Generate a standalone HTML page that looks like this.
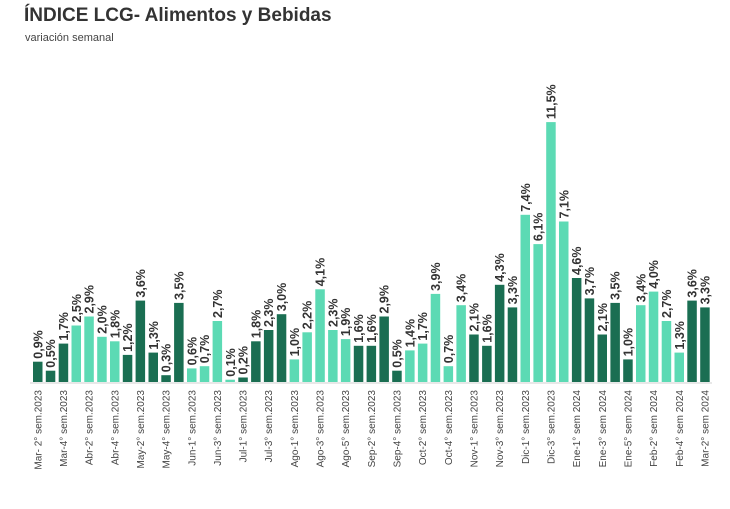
<!DOCTYPE html>
<html><head><meta charset="utf-8"><style>
body{margin:0;background:#fff;width:730px;height:504px;overflow:hidden;font-family:"Liberation Sans",sans-serif}
</style></head><body>
<svg id="s" width="730" height="504" xmlns="http://www.w3.org/2000/svg" font-family="Liberation Sans, sans-serif">
<text x="24" y="21" font-size="19" font-weight="bold" fill="#333">ÍNDICE LCG- Alimentos y Bebidas</text>
<text x="25" y="41" font-size="11" fill="#444">variación semanal</text>
<line x1="30" y1="383" x2="712" y2="383" stroke="#d0d0d0" stroke-width="1"/>
<g id="g"></g>
</svg>
<script>
var v=[0.9,0.5,1.7,2.5,2.9,2.0,1.8,1.2,3.6,1.3,0.3,3.5,0.6,0.7,2.7,0.1,0.2,1.8,2.3,3.0,1.0,2.2,4.1,2.3,1.9,1.6,1.6,2.9,0.5,1.4,1.7,3.9,0.7,3.4,2.1,1.6,4.3,3.3,7.4,6.1,11.5,7.1,4.6,3.7,2.1,3.5,1.0,3.4,4.0,2.7,1.3,3.6,3.3];
var c="DDDLLLLDDDDDLLLLDDDDLLLLLDDDDLLLLLDDDDLLLLDDDDDLLLLDD";
var xl=["Mar- 2° sem.2023","Mar-4° sem.2023","Abr-2° sem.2023","Abr-4° sem.2023","May-2° sem.2023","May-4° sem.2023","Jun-1° sem.2023","Jun-3° sem.2023","Jul-1° sem.2023","Jul-3° sem.2023","Ago-1° sem.2023","Ago-3° sem.2023","Ago-5° sem.2023","Sep-2° sem.2023","Sep-4° sem.2023","Oct-2° sem.2023","Oct-4° sem.2023","Nov-1° sem.2023","Nov-3° sem.2023","Dic-1° sem.2023","Dic-3° sem.2023","Ene-1° sem 2024","Ene-3° sem 2024","Ene-5° sem 2024","Feb-2° sem 2024","Feb-4° sem 2024","Mar-2° sem 2024"];
var h="";
for(var i=0;i<v.length;i++){
 var x=33+i*12.83, hh=v[i]*22.6, y=382-hh, cx=x+4.8;
 h+='<rect x="'+x.toFixed(1)+'" y="'+y.toFixed(1)+'" width="9.5" height="'+hh.toFixed(1)+'" fill="'+(c[i]=="D"?"#1a6e52":"#5cdab4")+'"/>';
 var s=v[i].toFixed(1).replace(".",",")+"%";
 h+='<text transform="translate('+(cx+4.5).toFixed(1)+','+(y-3).toFixed(1)+') rotate(-90)" font-size="12.5" font-weight="bold" fill="#333">'+s+'</text>';
 if(i%2==0){h+='<text transform="translate('+(cx+3.5).toFixed(1)+',390) rotate(-90)" text-anchor="end" font-size="10" fill="#444">'+xl[i/2]+'</text>';}
}
document.getElementById("g").innerHTML=h;
</script>
</body></html>
